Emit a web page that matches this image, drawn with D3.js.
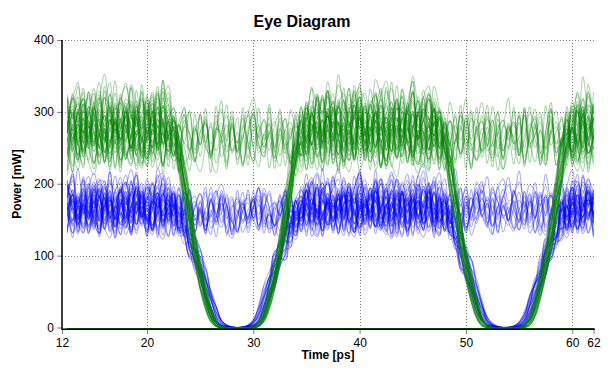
<!DOCTYPE html>
<html><head><meta charset="utf-8">
<script src="https://cdn.jsdelivr.net/npm/d3@7"></script>
<style>body{margin:0;background:#fff}svg{display:block}text{font-family:"Liberation Sans",Arial,sans-serif}</style>
</head><body><svg id="c" width="610" height="375"></svg>
<script>
// ---------- data ----------
const xTicks = [12, 20, 30, 40, 50, 60, 62];
const yTicks = [0, 100, 200, 300, 400];
const timeStart = 12.5, timeStep = 0.5, sampleCount = 100;   // ps
const dipCenters = [28.5, 53.7];                               // ps
// pulse edge shape (mW) vs distance from dip centre (ps)
const edgeOffsets = [0, 0.5, 1, 1.5, 2, 2.5, 3, 3.5, 4, 4.5, 5, 5.5, 6, 6.5, 7, 7.5, 8];
const greenEdge = [0, 0, 0, 0, 3, 15, 40, 72, 106, 152, 200, 245, 282, 310, 332, 352, 372];
const blueEdge  = [0, 0, 1, 4, 12, 32, 56, 80, 102, 122, 140, 156, 170, 182, 194, 206, 218];
// hand-read wiggle texture (mW)
const noiseBank = [
 [12,-8,20,-15,5,28,-4,-22,10,-6,18,30,2,-18,-30,-5,14,-10,8,24,-12,0,-25,6,32,-3,-16,10,-8,22,4,-20,-9,15,-2,26,-14,-28,3,18,-7,11,-19,7,29,-1,-13,20,-24,9],
 [-10,15,-22,4,25,-6,12,-18,-3,20,35,8,-12,2,-26,-8,16,-4,22,6,-20,-32,-2,14,-9,27,10,-15,5,-24,18,-1,30,3,-11,-23,9,-5,21,13,-17,0,-28,11,24,-7,16,-14,2,-20],
 [5,-14,26,10,-20,-4,18,-24,7,33,-9,1,-16,22,-11,-29,4,17,-3,9,-21,28,12,-7,-18,3,24,-13,16,-27,-6,19,0,-15,8,31,-10,-22,6,14,-5,23,-17,-1,27,-12,4,-25,15,-8],
 [-3,21,-11,-26,9,16,-8,30,1,-19,12,-6,25,-23,-2,13,-15,6,34,-10,-4,18,-28,7,20,-16,2,11,-21,26,-9,-1,17,-30,4,22,-13,8,-6,28,-18,3,14,-24,10,-5,19,-11,24,0],
 [18,-2,-20,8,-11,27,4,-17,13,-7,-31,6,20,-4,15,-24,1,32,-12,-5,23,-19,9,2,-14,29,-8,17,-26,5,12,-3,-22,21,-10,7,26,-16,0,-29,14,-6,19,-21,3,25,-9,11,-1,-18],
 [-15,7,24,-5,-28,12,3,19,-13,-1,26,-20,8,-9,31,5,-17,-6,14,-25,10,21,-3,-12,28,-22,0,16,-7,9,-30,18,6,-14,24,-4,-19,11,2,-26,20,-11,13,-2,-23,30,-8,5,17,-16],
 [9,-24,2,16,-12,28,-18,-5,22,11,-27,0,14,-8,19,-21,7,25,-15,-3,30,-10,4,-23,13,-1,20,-29,6,17,-11,-4,27,-19,10,1,-16,23,-7,12,-25,8,29,-13,-2,18,-20,5,-9,21],
 [0,19,-17,6,31,-9,-23,12,-4,24,-14,3,-30,15,8,-19,27,-6,-11,20,2,-26,16,-10,33,-2,-18,9,21,-25,4,13,-8,-21,26,-13,7,-3,18,-28,11,22,-16,1,-5,29,-12,10,-27,14]
];
// green traces
const greenBase  = [292,268,262,288,258,291,258,306,264,266,285,262,283,255,298,269,270,261,289,304,260,259,293,264,266,301,284,256,258,296,263,266,288,260,268,270,290,265,262,284];
const greenStart = [0,57,113,171,229,283,341,17,77,139,197,251,311,371,33,93,151,209,267,323,389,47,103,163,221,277,337,9,71,127,187,241,301,361,25,85,145,205,259,317];
const greenDip1  = [1,1,0,1,1,1,0,1,1,0,1,1,1,0,1,1,0,1,1,1,0,1,1,0,1,1,1,0,1,1,0,1,1,1,0,1,1,1,0,1];
const greenDip2  = [1,0,1,1,0,1,1,1,0,1,1,0,1,1,1,0,1,0,1,1,1,0,1,1,0,1,1,1,0,1,1,0,1,1,1,0,1,0,1,1];
const greenJitter= [0.1,-0.2,0.3,-0.1,0,0.25,-0.3,0.15,-0.05,0.2,-0.25,0.05,0.3,-0.15,0.1,-0.3,0.2,0,-0.1,0.25,-0.2,0.15,-0.05,0.3,-0.25,0.1,0,-0.15,0.2,-0.3,0.05,0.25,-0.1,0.15,-0.2,0,0.3,-0.05,0.1,-0.25];
// blue traces
const blueBase   = [163,158,183,160,161,168,160,158,175,180,157,162,161,165,159,158,171,189,158,169,176,160,184,159,174,160,162,186,163,160,157,177,158,166,160,188,161,159,175,156];
const blueStart  = [200,263,319,377,31,89,147,211,271,329,383,41,99,157,219,279,337,393,53,109,167,227,287,347,5,63,121,181,239,297,353,13,73,131,191,247,307,367,23,83];
const blueDip1   = [1,0,1,1,0,1,1,0,1,1,0,1,0,1,1,0,1,1,0,1,1,0,1,0,1,1,0,1,1,0,1,1,0,1,0,1,1,0,1,1];
const blueDip2   = [0,1,1,0,1,1,0,1,0,1,1,0,1,1,0,1,1,1,0,1,0,1,1,0,1,1,0,1,0,1,1,1,0,1,1,0,1,0,1,1];
const blueJitter = [-0.3,0.2,0.4,-0.1,0,-0.4,0.3,0.1,-0.2,0.35,-0.35,0.05,0.25,-0.15,0.4,-0.05,0.15,-0.25,0.3,-0.4,0.1,0.2,-0.3,0,0.35,-0.2,0.05,-0.1,0.25,-0.35,0.4,0.15,-0.05,0.3,-0.25,0.1,-0.15,0.2,-0.4,0];
const greenNoiseScale = 1.45, blueNoiseScale = 1.1;
const greenEdgeNoise = 0.35, blueEdgeNoise = 0.8;
const zeroLevel = [[12.5, 0], [62, 0]];

// ---------- drawing ----------
const svg = d3.select("#c");
const x = d3.scaleLinear().domain([12, 62]).range([62, 593.5]);
const y = d3.scaleLinear().domain([0, 400]).range([327.5, 40]);
const px = v => Math.round(v) + 0.5;

const times = d3.range(sampleCount).map(k => timeStart + k * timeStep);
const noiseFlat = noiseBank.flat();

function buildTraces(base, start, dip1, dip2, jitter, edge, scale, edgeNoise) {
  const edgeAt = d3.scaleLinear().domain(edgeOffsets).range(edge).clamp(true);
  const maxOff = edgeOffsets[edgeOffsets.length - 1];
  return base.map((b, i) => times.map((t, k) => {
    const n = noiseFlat[(start[i] + k) % noiseFlat.length] * scale;
    let v = b + n;
    [dip1[i], dip2[i]].forEach((on, j) => {
      if (!on) return;
      const d = Math.abs(t - dipCenters[j] - jitter[i]);
      if (d <= maxOff) v = Math.min(v, edgeAt(d) * (1 + edgeNoise * n / b));
    });
    return [t, Math.max(0, v)];
  }));
}
const blueTraces = buildTraces(blueBase, blueStart, blueDip1, blueDip2, blueJitter, blueEdge, blueNoiseScale, blueEdgeNoise);
const greenTraces = buildTraces(greenBase, greenStart, greenDip1, greenDip2, greenJitter, greenEdge, greenNoiseScale, greenEdgeNoise);

// grid
const grid = svg.append("g").attr("stroke", "#808080").attr("stroke-dasharray", "1,2").attr("shape-rendering", "crispEdges");
grid.selectAll(".gx").data(xTicks.filter(d => d > 12 && d < 62)).join("line")
  .attr("x1", d => px(x(d))).attr("x2", d => px(x(d)))
  .attr("y1", y(400)).attr("y2", y(0));
grid.selectAll(".gy").data(yTicks).join("line")
  .attr("x1", x(12)).attr("x2", x(62))
  .attr("y1", d => px(y(d))).attr("y2", d => px(y(d)));

const line = d3.line().x(d => x(d[0])).y(d => y(d[1])).curve(d3.curveCatmullRom.alpha(0.5));
svg.append("g").selectAll("path").data(blueTraces).join("path")
  .attr("d", line).attr("fill", "none").attr("stroke", "#0000ff").attr("stroke-opacity", 0.35).attr("stroke-width", 1);
svg.append("g").selectAll("path").data(greenTraces).join("path")
  .attr("d", line).attr("fill", "none").attr("stroke", "#008000").attr("stroke-opacity", 0.35).attr("stroke-width", 1);
svg.append("path").datum(zeroLevel).attr("d", d3.line().x(d => x(d[0])).y(d => px(y(d[1]))))
  .attr("fill", "none").attr("stroke", "#008000").attr("stroke-width", 1).attr("shape-rendering", "crispEdges");

// axes
const xAxis = svg.append("g").attr("transform", "translate(0,329)")
  .call(d3.axisBottom(x).tickValues(xTicks).tickSizeInner(5).tickSizeOuter(0).tickPadding(4).tickFormat(d3.format("d")));
const yAxis = svg.append("g").attr("transform", "translate(62,0)")
  .call(d3.axisLeft(y).tickValues(yTicks).tickSizeInner(5).tickSizeOuter(0).tickPadding(3).tickFormat(d3.format("d")));
[xAxis, yAxis].forEach(a => {
  a.select(".domain").remove();
  a.selectAll(".tick line").attr("stroke", "#808080");
  a.selectAll("text").attr("font-size", 12).attr("fill", "#000").attr("font-family", "Liberation Sans, Arial, sans-serif");
});
svg.append("line").attr("x1", 62).attr("x2", 62).attr("y1", 40).attr("y2", 330)
  .attr("stroke", "#000").attr("stroke-width", 1.5);
svg.append("line").attr("x1", 62).attr("x2", 595).attr("y1", 329.25).attr("y2", 329.25)
  .attr("stroke", "#000").attr("stroke-width", 1.5);

svg.append("text").attr("x", 302).attr("y", 27).attr("text-anchor", "middle")
  .attr("font-size", 16).attr("font-weight", "bold").text("Eye Diagram");
svg.append("text").attr("x", 328).attr("y", 359).attr("text-anchor", "middle")
  .attr("font-size", 12).attr("font-weight", "bold").text("Time [ps]");
svg.append("text").attr("transform", "translate(21,184) rotate(-90)").attr("text-anchor", "middle")
  .attr("font-size", 12).attr("font-weight", "bold").text("Power [mW]");
</script></body></html>
